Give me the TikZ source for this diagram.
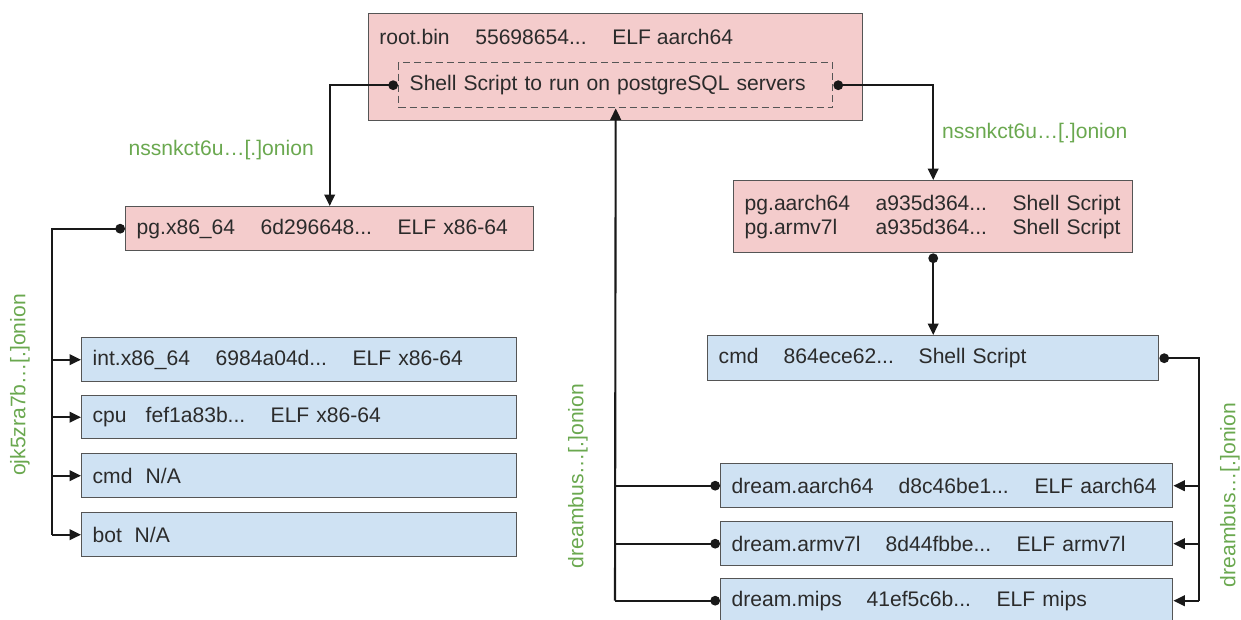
\documentclass[tikz,border=0pt]{standalone}
\usepackage{fontspec}
\setmainfont{Liberation Sans}
\usetikzlibrary{arrows.meta, positioning}
\definecolor{PinkFill}{HTML}{F4CCCC}
\definecolor{BlueFill}{HTML}{CFE2F3}
\definecolor{BoxLine}{HTML}{555555}
\definecolor{OnionGreen}{HTML}{6AA84F}
\definecolor{TextGray}{HTML}{2B2B2B}
\newlength\pxu
\setlength\pxu{0.02cm}
\newcommand{\col}[2]{% width in px, text
    \makebox[#1\pxu][l]{#2}%
}

\begin{document}
\begin{tikzpicture}[
    x=0.02cm, y=-0.02cm,
    file/.style={draw=BoxLine, line width=0.8pt, anchor=north west,
        inner xsep=11\pxu, inner ysep=0pt, align=left, text=TextGray,
        font=\fontsize{12}{13.6}\selectfont},
    pinkfile/.style={file, fill=PinkFill},
    bluefile/.style={file, fill=BlueFill},
    boxsize/.style 2 args={minimum width=#1*\pxu, minimum height=#2*\pxu,
        text width=(#1-22)*\pxu},
    link/.style={line width=1.2pt, draw=black!90},
    arr/.style={link, -{Triangle[length=6.5pt, width=6pt]}},
    dotarr/.style={link, {Circle[length=5.5pt]}-{Triangle[length=6.5pt, width=6pt]}},
    dotline/.style={link, {Circle[length=5.5pt]}-},
    onion/.style={text=OnionGreen, font=\fontsize{12}{14}\selectfont}
]
\useasboundingbox (0,0) rectangle (1241,619);

% ===================================================================
% ROOT (top)
% ===================================================================
\node[pinkfile, boxsize={494}{107}] (root) at (368,13) {};
\node[anchor=west, inner sep=0pt, text=TextGray, font=\fontsize{12}{14}\selectfont]
    (roottitle) at (379,37) {\col{96}{root.bin}\col{137}{55698654...}ELF aarch64};
\node[file, dash pattern=on 7\pxu off 4\pxu, boxsize={434}{45}]
    (dash) at (398,62) {Shell Script to run on postgreSQL servers};

% ===================================================================
% PG DROPPERS (middle row)
% ===================================================================
\node[pinkfile, boxsize={408}{44}] (pgx) at (125,206)
    {\col{124}{pg.x86\_64}\col{137}{6d296648...}ELF x86-64};
\node[pinkfile, boxsize={399}{72}] (pga) at (733,180)
    {\col{131}{pg.aarch64}\col{137}{a935d364...}Shell Script\\
     \col{131}{pg.armv7l}\col{137}{a935d364...}Shell Script};

\node[onion, anchor=east] (onionl) at (320,150) {nssnkct6u…[.]onion};
\node[onion, anchor=west] (onionr) at (936,133) {nssnkct6u…[.]onion};

% ===================================================================
% x86-64 PAYLOADS (left column)
% ===================================================================
\node[bluefile, boxsize={435}{44}] (int) at (81,337)
    {\col{123}{int.x86\_64}\col{137}{6984a04d...}ELF x86-64};
\node[bluefile, boxsize={435}{43}] (cpu) at (81,395)
    {\col{53}{cpu}\col{125}{fef1a83b...}ELF x86-64};
\node[bluefile, boxsize={435}{44}] (cmdl) at (81,453)
    {\col{53}{cmd}N/A};
\node[bluefile, boxsize={435}{44}] (bot) at (81,512)
    {\col{42}{bot}N/A};

\node[onion, rotate=90] (onionx) at (20,385) {ojk5zra7b…[.]onion};

% ===================================================================
% SHELL SCRIPT + DREAMBUS PAYLOADS (right column)
% ===================================================================
\node[bluefile, boxsize={451}{45}] (cmdr) at (707,335)
    {\col{65}{cmd}\col{135}{864ece62...}Shell Script};
\node[bluefile, boxsize={452}{44}] (dream1) at (720,463)
    {\col{167}{dream.aarch64}\col{136}{d8c46be1...}ELF aarch64};
\node[bluefile, boxsize={452}{44}] (dream2) at (720,521)
    {\col{154}{dream.armv7l}\col{131}{8d44fbbe...}ELF armv7l};
\node[bluefile, boxsize={452}{44}] (dream3) at (720,578)
    {\col{135}{dream.mips}\col{130}{41ef5c6b...}ELF mips};

\node[onion, rotate=90] (onionm) at (578,476) {dreambus…[.]onion};
\node[onion, rotate=90] (onione) at (1230,495) {dreambus…[.]onion};

% ===================================================================
% CONNECTORS
% ===================================================================
\draw[dotarr] (dash.west) -| (pgx.north);
\draw[dotarr] (dash.east) -| (pga.north);
\draw[dotarr] (pga.south) -- (cmdr.north);

% left trunk
\coordinate (ltrunk) at (52,229);
\draw[dotline] (pgx.west) -- (pgx.west -| ltrunk) -- (bot.west -| ltrunk);
\foreach \n in {int,cpu,cmdl,bot} {
    \draw[arr] (\n.west -| ltrunk) -- (\n.west);
}

% right trunk
\coordinate (rtrunk) at (1199,357);
\draw[dotline] (cmdr.east) -- (cmdr.east -| rtrunk) -- (dream3.east -| rtrunk);
\foreach \n in {dream1,dream2,dream3} {
    \draw[arr] (\n.east -| rtrunk) -- (\n.east);
}

% middle trunk back to root
\coordinate (mtrunk) at (615,600);
\foreach \n in {dream1,dream2,dream3} {
    \draw[dotline] (\n.west) -- (\n.west -| mtrunk);
}
\draw[arr] (dream3.west -| mtrunk) -- (dash.south);

\end{tikzpicture}
\end{document}
